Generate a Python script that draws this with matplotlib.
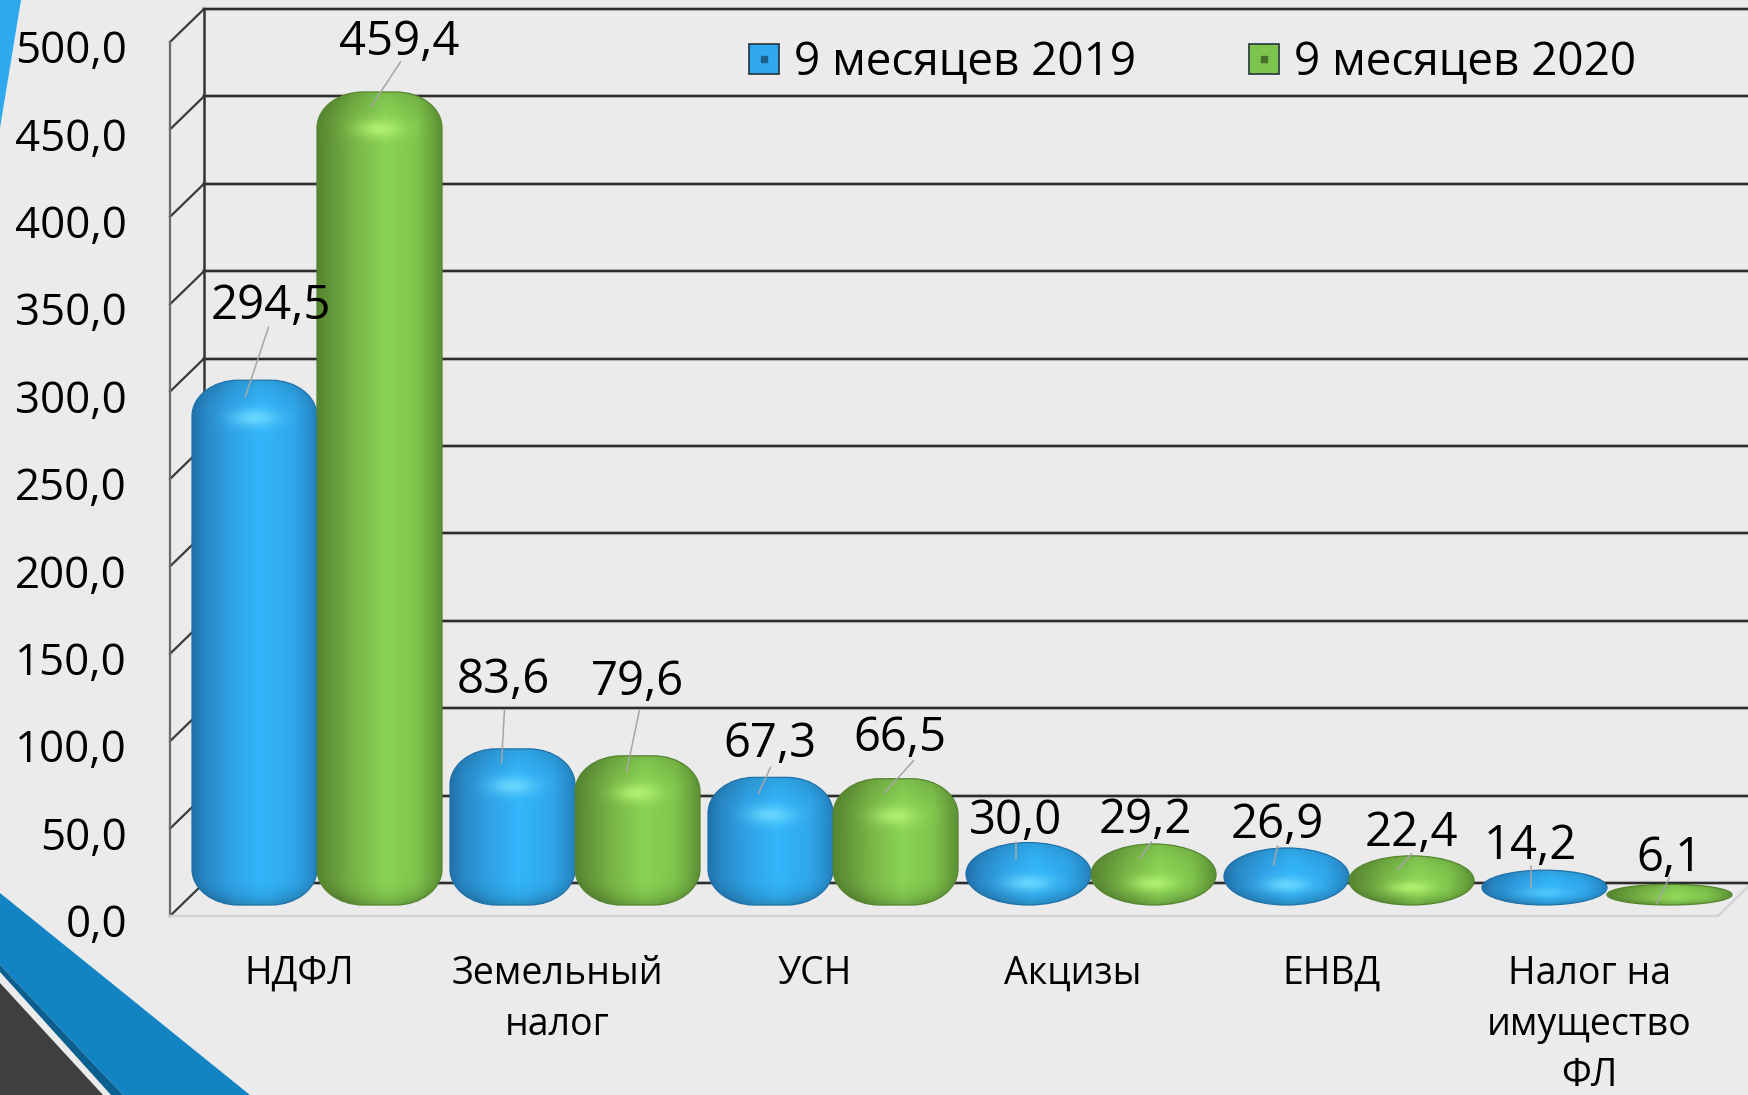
import numpy as np
import matplotlib
matplotlib.use("Agg")
import matplotlib.pyplot as plt
from matplotlib.colors import to_rgb
from matplotlib.legend_handler import HandlerTuple
from matplotlib.lines import Line2D
from matplotlib.patches import PathPatch, Polygon
from matplotlib.path import Path
from matplotlib.transforms import ScaledTranslation

plt.rcParams['font.family'] = ['Open Sans', 'DejaVu Sans']

categories = ["НДФЛ", "Земельный\nналог", "УСН", "Акцизы", "ЕНВД", "Налог на\nимущество\nФЛ"]
series_names = ["9 месяцев 2019", "9 месяцев 2020"]
values_2019 = [294.5, 83.6, 67.3, 30.0, 26.9, 14.2]
values_2020 = [459.4, 79.6, 66.5, 29.2, 22.4, 6.1]
labels_2019 = ["294,5", "83,6", "67,3", "30,0", "26,9", "14,2"]
labels_2020 = ["459,4", "79,6", "66,5", "29,2", "22,4", "6,1"]
y_ticks = [0, 50, 100, 150, 200, 250, 300, 350, 400, 450, 500]
y_tick_labels = ["0,0", "50,0", "100,0", "150,0", "200,0", "250,0",
                 "300,0", "350,0", "400,0", "450,0", "500,0"]

# label placement, in pixels from the middle of the bar top: text dx, dy, leader start dx, dy, tip dx, dy
offsets_2019 = [(16, -79, 14, -53, -9, 16), (-9, -74, -8, -39, -11, 14), (-1, -38, 0, -10, -12, 16),
                (-13, -26, -13, -1, -13, 16), (-9, -28, -9, -2, -13, 17), (-14, -29, -14, -4, -14, 18)]
offsets_2020 = [(20, -55, 21, -30, -8, 14), (0, -79, 2, -46, -11, 16), (4, -46, 18, -18, -11, 14),
                (-8, -29, -2, -2, -13, 14), (0, -28, 0, -2, -14, 14), (0, -31, 0, -7, -13, 19)]

BLUE = ["#2071a9", "#2887c5", "#2fa1e4", "#33b6fb", "#30a8ec", "#2a94d4", "#2380bb"]
GREEN = ["#568530", "#619538", "#78b546", "#8ad455", "#7fc54c", "#6ba63e", "#5c8f35"]
BLUE_LIGHT = "#6fdcff"
GREEN_LIGHT = "#b6f473"

FIG_W, FIG_H = 1748, 1095
AX_LEFT, AX_RIGHT, AX_TOP, AX_BOTTOM = 170, 1718, 42, 916
PX_Y = (AX_BOTTOM - AX_TOP) / 500
PX_X = (AX_RIGHT - AX_LEFT) / 6
DEPTH_X = 34 / PX_X
DEPTH_Y = 33 / PX_Y
BAR_W = 125 / PX_X
BAR_LEFT = 22 / PX_X
BAR_TOP_BASE = 21 / PX_Y
BAR_BOTTOM = 11 / PX_Y
VALUE_PT = 34
TICK_PT = 31.5


def bar_path(x0, x1, y0, y1, rx, ry):
    # rounded rectangle with elliptic corners
    k = 0.5523
    verts = [(x0 + rx, y0), (x1 - rx, y0),
             (x1 - rx + k * rx, y0), (x1, y0 + ry - k * ry), (x1, y0 + ry),
             (x1, y1 - ry),
             (x1, y1 - ry + k * ry), (x1 - rx + k * rx, y1), (x1 - rx, y1),
             (x0 + rx, y1),
             (x0 + rx - k * rx, y1), (x0, y1 - ry + k * ry), (x0, y1 - ry),
             (x0, y0 + ry),
             (x0, y0 + ry - k * ry), (x0 + rx - k * rx, y0), (x0 + rx, y0)]
    codes = [Path.MOVETO, Path.LINETO,
             Path.CURVE4, Path.CURVE4, Path.CURVE4,
             Path.LINETO,
             Path.CURVE4, Path.CURVE4, Path.CURVE4,
             Path.LINETO,
             Path.CURVE4, Path.CURVE4, Path.CURVE4,
             Path.LINETO,
             Path.CURVE4, Path.CURVE4, Path.CURVE4]
    return Path(verts, codes)


def bar_shading(h_px, ry_px, rx_frac, ramp, light):
    # picture of one bar: sideways colour ramp, dark rounded ends, highlight under the top
    w_n, h_n = 80, max(int(h_px), 8)
    u = (np.arange(w_n) + 0.5) / w_n
    t = (np.arange(h_n) + 0.5) / h_n * h_px
    uu, tt = np.meshgrid(u, t)
    stops = [0, 0.1, 0.3, 0.55, 0.8, 0.92, 1]
    rgb = np.array([to_rgb(c) for c in ramp])
    img = np.dstack([np.interp(uu, stops, rgb[:, i]) for i in range(3)])

    ex = np.clip((np.abs(uu - 0.5) - (0.5 - rx_frac)) / rx_frac, 0, 1)
    ey_bot = np.clip((ry_px - (h_px - tt)) / ry_px, 0, 1)
    ey_top = np.clip((ry_px - tt) / ry_px, 0, 1)
    img *= (1 - 0.5 * (ey_bot * (0.75 + 0.25 * ex)) ** 3)[..., None]
    img *= (1 - 0.2 * (ey_top * (0.75 + 0.25 * ex)) ** 2)[..., None]

    t0 = ry_px * (1.05 if ry_px >= 36 else 1.3)
    glow = np.exp(-((uu - 0.5) / 0.18) ** 2 - ((tt - t0) / (0.22 * ry_px + 1)) ** 2)
    glow = glow * min((ry_px / 25) ** 2, 0.85)
    img = img * (1 - glow[..., None]) + np.array(to_rgb(light)) * glow[..., None]
    return img


def draw_bar(ax, x0, value, ramp, light):
    y1 = value + BAR_TOP_BASE
    h_px = (y1 - BAR_BOTTOM) * PX_Y
    ry_px = min(36, h_px / 2)
    rx_frac = 0.5 if ry_px < 36 else 0.37
    path = bar_path(x0, x0 + BAR_W, BAR_BOTTOM, y1, rx_frac * BAR_W, ry_px / PX_Y)
    patch = PathPatch(path, facecolor="none", edgecolor=ramp[0], lw=0.9, zorder=4, clip_on=False)
    im = ax.imshow(bar_shading(h_px, ry_px, rx_frac, ramp, light), extent=(x0, x0 + BAR_W, BAR_BOTTOM, y1),
                   origin="upper", aspect="auto", interpolation="bilinear", zorder=3)
    ax.add_patch(patch)
    im.set_clip_path(patch)
    im.set_clip_box(fig.bbox)  # last bar sticks out past the axes


def draw_label(ax, x_mid, value, text, off):
    top_px = AX_BOTTOM - (value + BAR_TOP_BASE) * PX_Y
    mid_px = AX_LEFT + x_mid * PX_X

    def to_data(dx, dy):
        return ((mid_px + dx - AX_LEFT) / PX_X, (AX_BOTTOM - top_px - dy) / PX_Y)

    start = to_data(off[2], off[3])
    tip = to_data(off[4], off[5])
    ax.plot([start[0], tip[0]], [start[1], tip[1]], color="#a6a6a6", lw=1.1, zorder=5, clip_on=False)
    tx, ty = to_data(off[0], off[1] + 5)
    ax.text(tx, ty, text, ha="center", va="center", fontsize=VALUE_PT, color="black", zorder=6, clip_on=False)


fig = plt.figure(figsize=(FIG_W / 100, FIG_H / 100), dpi=100, facecolor="#ebebeb")

# slide decoration, in pixels
bg = fig.add_axes([0, 0, 1, 1], zorder=0)
bg.set_xlim(0, FIG_W)
bg.set_ylim(FIG_H, 0)
bg.axis("off")
bg.add_patch(Polygon([(0, 0), (21, 0), (0, 128)], color="#2ea9ee", lw=0))
bg.add_patch(Polygon([(0, 893), (250, 1095), (123, 1095), (0, 965)], color="#1284c4", lw=0))
bg.add_patch(Polygon([(0, 965), (123, 1095), (111, 1095), (0, 972)], color="#0b5f8f", lw=0))
bg.add_patch(Polygon([(0, 983), (103, 1095), (0, 1095)], color="#3f3f3f", lw=0))

ax = fig.add_axes([AX_LEFT / FIG_W, 1 - AX_BOTTOM / FIG_H,
                   (AX_RIGHT - AX_LEFT) / FIG_W, (AX_BOTTOM - AX_TOP) / FIG_H], zorder=1)
ax.patch.set_alpha(0)
for side in ax.spines.values():
    side.set_visible(False)

# walls
for v in y_ticks:
    ax.plot([DEPTH_X, 6 + DEPTH_X], [v + DEPTH_Y] * 2, color="#bdbdbd", lw=3.0, zorder=1, clip_on=False)
    ax.plot([DEPTH_X, 6 + DEPTH_X], [v + DEPTH_Y] * 2, color="#2c2c2c", lw=1.6, zorder=2, clip_on=False)
    ax.plot([0, DEPTH_X], [v, v + DEPTH_Y], color="#3a3a3a", lw=1.6, zorder=2, clip_on=False)
ax.plot([0, 0], [0, 500], color="#6b6b6b", lw=1.6, zorder=2, clip_on=False)
ax.plot([DEPTH_X, DEPTH_X], [DEPTH_Y, 500 + DEPTH_Y], color="#333333", lw=1.8, zorder=2, clip_on=False)
ax.plot([0, 6, 6 + DEPTH_X], [0, 0, DEPTH_Y], color="#d6d2d8", lw=1.8, zorder=2, clip_on=False)

for i in range(len(categories)):
    x_2019 = i + BAR_LEFT
    x_2020 = x_2019 + BAR_W
    draw_bar(ax, x_2019, values_2019[i], BLUE, BLUE_LIGHT)
    draw_bar(ax, x_2020, values_2020[i], GREEN, GREEN_LIGHT)
    draw_label(ax, x_2019 + BAR_W / 2, values_2019[i], labels_2019[i], offsets_2019[i])
    draw_label(ax, x_2020 + BAR_W / 2, values_2020[i], labels_2020[i], offsets_2020[i])

ax.set_xlim(0, 6)
ax.set_ylim(0, 500)
ax.set_yticks(y_ticks)
ax.set_yticklabels(y_tick_labels, fontsize=TICK_PT, color="black")
ax.set_xticks(np.arange(len(categories)) + 0.5)
ax.set_xticklabels(categories, fontsize=27, color="black", linespacing=1.45)
ax.tick_params(axis="y", length=0, pad=31)
ax.tick_params(axis="x", length=0, pad=28)
nudge = ScaledTranslation(0, -4.5 / 100, fig.dpi_scale_trans)
for lbl in ax.get_yticklabels():
    lbl.set_transform(lbl.get_transform() + nudge)

# legend swatches stacked on top of each other
handles = []
for face, inner in [("#2fa8ee", "#1b5f8c"), ("#7cc44c", "#46702a")]:
    handles.append((Line2D([], [], marker="s", ms=21, mfc=face, mec="#26323a", mew=1.2, ls=""),
                    Line2D([], [], marker="s", ms=5, mfc=inner, mec=inner, ls="")))
ax.legend(handles, series_names, handler_map={tuple: HandlerTuple(ndivide=1)}, ncol=2, frameon=False,
          loc="center left", bbox_to_anchor=(0.354, 0.976), fontsize=33, handlelength=1.0,
          handletextpad=0.15, columnspacing=2.3, borderpad=0)

fig.savefig("out.png", dpi=100, facecolor=fig.get_facecolor())
